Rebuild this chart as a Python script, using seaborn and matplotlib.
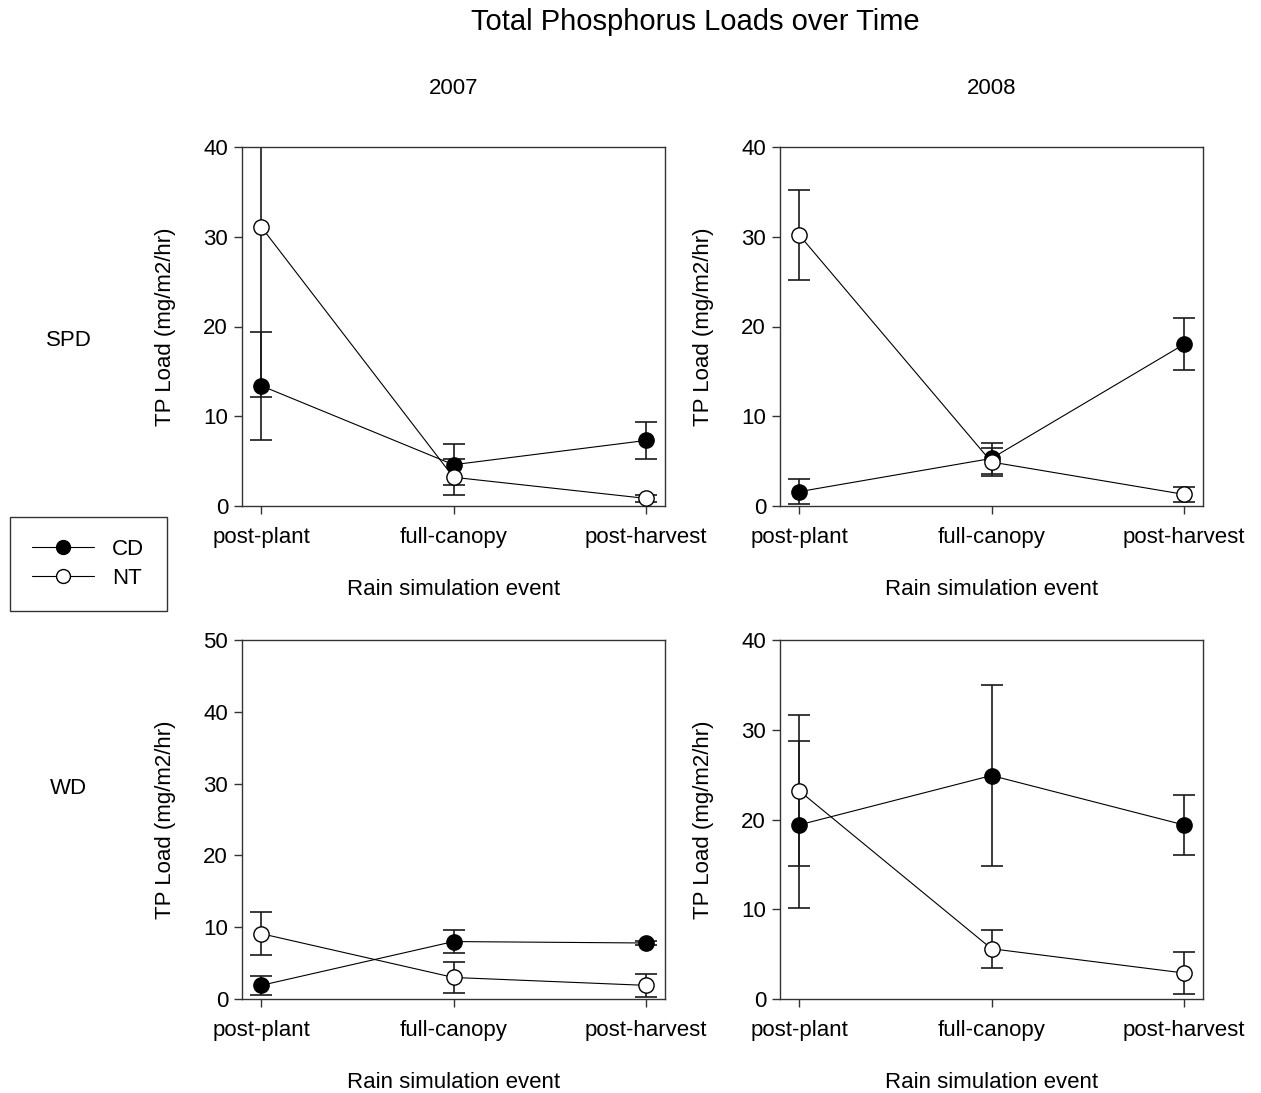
import pandas as pd
import matplotlib.pyplot as plt
import seaborn as sns
from matplotlib.lines import Line2D

# rain simulation events on the x axis
eventos = ['post-plant', 'full-canopy', 'post-harvest']

# mean TP loads (mg/m2/hr) and error bars
spd2007_cd = [13.4, 4.6, 7.3]
spd2007_cd_err = [6.0, 2.3, 2.1]
spd2007_nt = [31.1, 3.2, 0.85]
spd2007_nt_err = [19.0, 2.0, 0.4]

spd2008_cd = [1.6, 5.3, 18.0]
spd2008_cd_err = [1.4, 1.7, 2.9]
spd2008_nt = [30.2, 4.9, 1.3]
spd2008_nt_err = [5.0, 1.6, 0.8]

wd2007_cd = [1.9, 8.0, 7.8]
wd2007_cd_err = [1.3, 1.6, 0.3]
wd2007_nt = [9.1, 3.0, 1.9]
wd2007_nt_err = [3.0, 2.1, 1.6]

wd2008_cd = [19.4, 24.9, 19.4]
wd2008_cd_err = [9.3, 10.1, 3.3]
wd2008_nt = [23.2, 5.6, 2.9]
wd2008_nt_err = [8.4, 2.1, 2.3]

paineis = [
    ('SPD', '2007', spd2007_cd, spd2007_cd_err, spd2007_nt, spd2007_nt_err, 40),
    ('SPD', '2008', spd2008_cd, spd2008_cd_err, spd2008_nt, spd2008_nt_err, 40),
    ('WD', '2007', wd2007_cd, wd2007_cd_err, wd2007_nt, wd2007_nt_err, 50),
    ('WD', '2008', wd2008_cd, wd2008_cd_err, wd2008_nt, wd2008_nt_err, 40),
]

sns.set_theme(style='ticks')
plt.rcParams['font.family'] = ['Liberation Sans', 'DejaVu Sans']
plt.rcParams['text.color'] = 'black'
plt.rcParams['axes.labelcolor'] = 'black'
plt.rcParams['xtick.color'] = 'black'
plt.rcParams['ytick.color'] = 'black'

fig = plt.figure(figsize=(12.61, 10.93), dpi=100)

# axes placement in pixels: left, top
posicoes = [(242, 147), (780, 147), (242, 640), (780, 640)]
W, H = 1261, 1093
largura, altura = 423, 359
fs = 16

estilos = {'CD': 'black', 'NT': 'white'}

for (local, ano, cd, cd_err, nt, nt_err, ymax), (px, py) in zip(paineis, posicoes):
    ax = fig.add_axes([px / W, (H - py - altura) / H, largura / W, altura / H])

    dados = pd.DataFrame({
        'evento': eventos * 2,
        'carga': cd + nt,
        'erro': cd_err + nt_err,
        'manejo': ['CD'] * 3 + ['NT'] * 3,
    })

    for manejo, grupo in dados.groupby('manejo'):
        ax.errorbar(grupo['evento'], grupo['carga'], yerr=grupo['erro'],
                    fmt='none', ecolor='#1a1a1a', elinewidth=1.2,
                    capsize=8, capthick=1.2, zorder=2)

    sns.lineplot(data=dados, x='evento', y='carga', hue='manejo',
                 palette={'CD': 'black', 'NT': 'black'},
                 linewidth=0.8, legend=False, ax=ax, zorder=3, sort=False)
    for linha, manejo in zip(ax.get_lines()[-2:], ['CD', 'NT']):
        linha.set_marker('o')
        linha.set_markersize(11)
        linha.set_markeredgewidth(1.0)
        linha.set_markerfacecolor(estilos[manejo])
        linha.set_markeredgecolor('black')
        linha.set_clip_on(False)

    ax.set_xlim(-0.1, 2.1)
    ax.set_ylim(0, ymax)
    ax.set_yticks(range(0, ymax + 1, 10))
    ax.tick_params(axis='both', labelsize=fs, length=6, width=1, color='#333333',
                   direction='out')
    ax.tick_params(axis='x', pad=9)
    ax.tick_params(axis='y', pad=4)
    for s in ax.spines.values():
        s.set_color('#333333')
        s.set_linewidth(1)
    ax.set_xlabel('Rain simulation event', fontsize=fs)
    ax.set_ylabel('TP Load (mg/m2/hr)', fontsize=fs)
    ax.xaxis.set_label_coords(0.5, -0.203)
    ax.yaxis.set_label_coords(-0.155, 0.5)

# column titles, row labels, main title
fig.text(453.5 / W, 1 - 88 / H, '2007', ha='center', va='center', fontsize=fs)
fig.text(991.5 / W, 1 - 88 / H, '2008', ha='center', va='center', fontsize=fs)
fig.text(69 / W, 1 - 340 / H, 'SPD', ha='center', va='center', fontsize=fs)
fig.text(68 / W, 1 - 789 / H, 'WD', ha='center', va='center', fontsize=fs)
fig.text(695 / W, 1 - 22 / H, 'Total Phosphorus Loads over Time',
         ha='center', va='center', fontsize=21)

handles = [
    Line2D([], [], color='black', lw=0.8, marker='o', markersize=10,
           mfc='black', mec='black'),
    Line2D([], [], color='black', lw=0.8, marker='o', markersize=10,
           mfc='white', mec='black'),
]
leg = fig.legend(handles, ['CD', 'NT'], loc='upper left',
                 bbox_to_anchor=(10 / W, 1 - 517 / H), fontsize=fs,
                 fancybox=False, edgecolor='#333333', framealpha=1,
                 handlelength=2.8, handletextpad=0.8, borderpad=1.0,
                 labelspacing=0.35, borderaxespad=0)
leg.get_frame().set_linewidth(1)

plt.savefig('out.png', dpi=100)
plt.close()
